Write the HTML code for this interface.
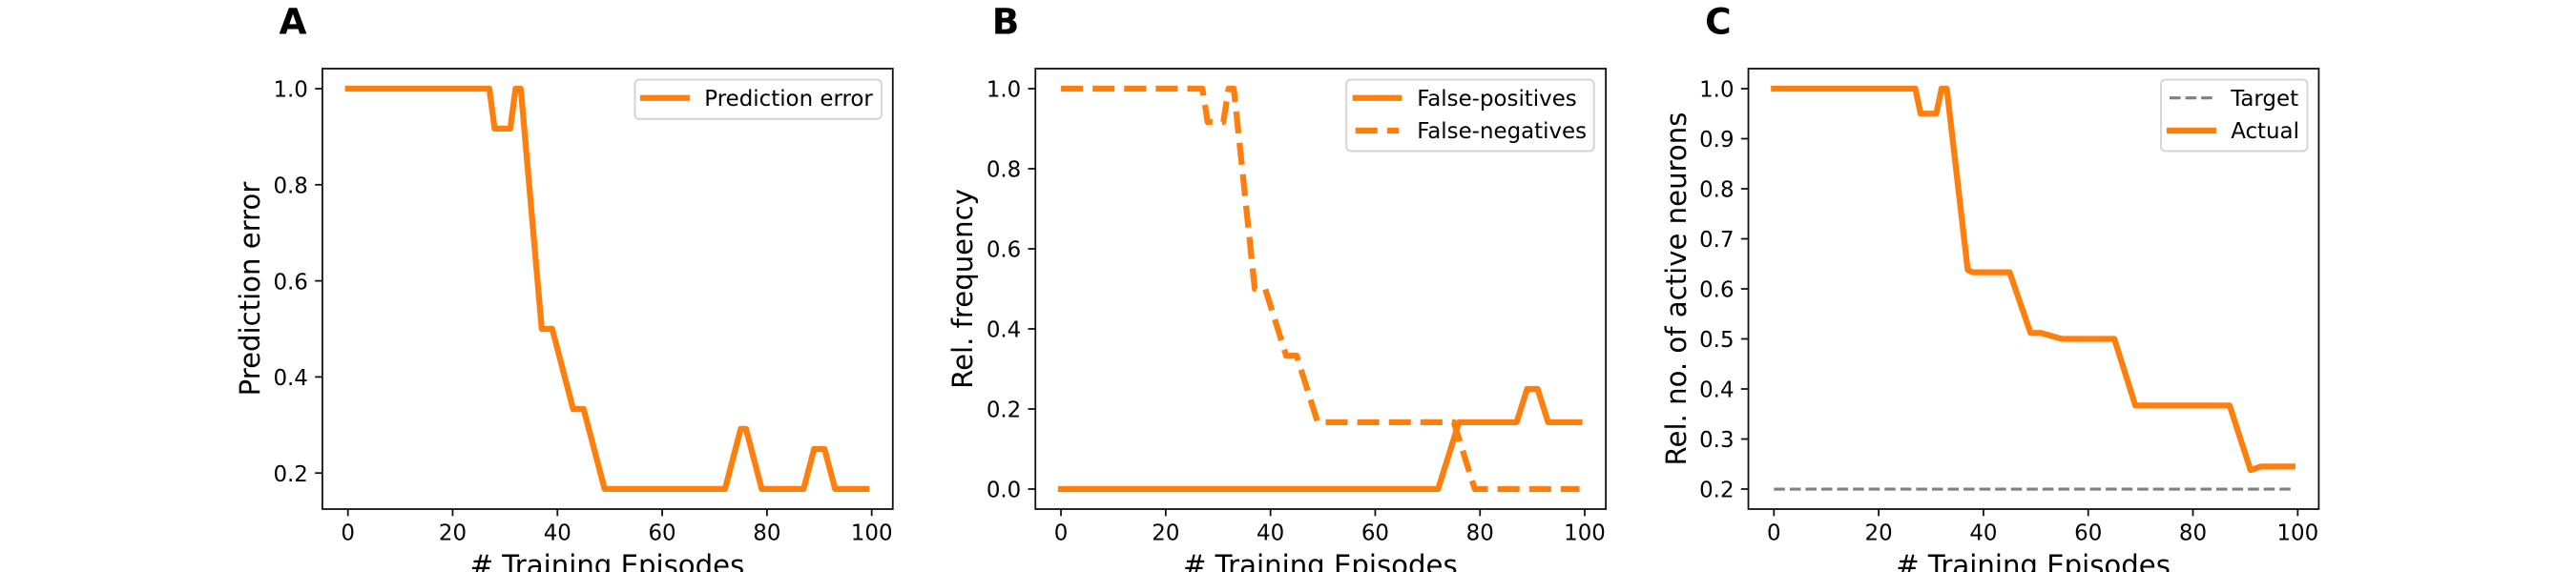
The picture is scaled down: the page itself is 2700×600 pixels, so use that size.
<!DOCTYPE html>
<html lang="en">
<head>
<meta charset="utf-8">
<title>Training metrics</title>
<style>
  html, body { margin: 0; padding: 0; background: #fff; width: 2700px; height: 600px; overflow: hidden; }
  svg { display: block; font-family: "DejaVu Sans", "Liberation Sans", sans-serif; fill: #000; }
  .tick-label { font-size: 22.92px; }
  .axis-title { font-size: 29.17px; }
  .panel-letter { font-size: 37.5px; font-weight: bold; }
  .legend-text { font-size: 22.92px; }
  .legend-box { fill: #fff; fill-opacity: .8; stroke: #d6d6d6; stroke-width: 2.08; }
  .frame { fill: none; stroke: #111; stroke-width: 1.8; }
  .tick { stroke: #111; stroke-width: 1.8; }
  .orange-solid { fill: none; stroke: #ff7f0e; stroke-width: 6.25; stroke-linejoin: round; stroke-linecap: square; }
  .orange-dashed { fill: none; stroke: #ff7f0e; stroke-width: 6.25; stroke-linejoin: round; stroke-linecap: butt; stroke-dasharray: 23.1 10; }
  .grey-dashed { fill: none; stroke: #808080; stroke-width: 3.125; stroke-linecap: butt; stroke-dasharray: 11.56 5; }
</style>
</head>
<body>
<svg id="figure" xmlns="http://www.w3.org/2000/svg" width="2700" height="600" viewBox="0 0 2700 600">
  <rect x="0" y="0" width="2700" height="600" fill="#fff"></rect>

  <text class="panel-letter" x="292.5" y="35.5">A</text>
  <text class="panel-letter" x="1039.8" y="35.5">B</text>
  <text class="panel-letter" x="1787.1" y="35.5">C</text>

  <g id="panel-a"></g>
  <g id="panel-b"></g>
  <g id="panel-c"></g>

  <g>
    <rect class="legend-box" x="665.4" y="83.5" width="258.5" height="41.3" rx="4.6"></rect>
    <g>
      <line class="orange-solid" x1="674" y1="102.7" x2="719.8" y2="102.7"></line>
      <text class="legend-text" x="738.3" y="110.8">Prediction error</text>
    </g>
  </g>

  <g>
    <rect class="legend-box" x="1411.2" y="83.5" width="259.5" height="75" rx="4.6"></rect>
    <g>
      <line class="orange-solid" x1="1420.8" y1="102.7" x2="1466.3" y2="102.7"></line>
      <text class="legend-text" x="1485.2" y="110.8">False-positives</text>
    </g>
    <g>
      <line class="orange-dashed" x1="1420.7" y1="137" x2="1466.3" y2="137"></line>
      <text class="legend-text" x="1485.2" y="145.2">False-negatives</text>
    </g>
  </g>

  <g>
    <rect class="legend-box" x="2265" y="83.5" width="153.5" height="75" rx="4.6"></rect>
    <g>
      <line class="grey-dashed" x1="2274" y1="102.7" x2="2319.8" y2="102.7"></line>
      <text class="legend-text" x="2338.2" y="110.8">Target</text>
    </g>
    <g>
      <line class="orange-solid" x1="2274" y1="137" x2="2319.8" y2="137"></line>
      <text class="legend-text" x="2338.2" y="145.2">Actual</text>
    </g>
  </g>
</svg>

<script>
// Shared x axis
const xDomain = [-4.95, 103.95];
const xTicks = [0, 20, 40, 60, 80, 100];

// Panel A data
const episodesError = [0, 27, 28, 31, 32, 33, 37, 39, 43, 45, 49, 72, 75, 76, 79, 87, 89, 91, 93, 99];
const predictionError = [1, 1, 0.917, 0.917, 1, 1, 0.5, 0.5, 0.333, 0.333, 0.167, 0.167, 0.292, 0.292, 0.167, 0.167, 0.25, 0.25, 0.167, 0.167];
const yDomainA = [0.125, 1.0417];
const yTicksA = [0.2, 0.4, 0.6, 0.8, 1.0];

// Panel B data
const episodesPositives = [0, 72, 76, 87, 89, 91, 93, 99];
const falsePositives = [0, 0, 0.167, 0.167, 0.25, 0.25, 0.167, 0.167];
const episodesNegatives = [0, 27, 28, 31, 32, 33, 37, 39, 43, 45, 49, 75, 79, 99];
const falseNegatives = [1, 1, 0.917, 0.917, 1, 1, 0.5, 0.5, 0.333, 0.333, 0.167, 0.167, 0, 0];
const yDomainB = [-0.05, 1.05];
const yTicksB = [0.0, 0.2, 0.4, 0.6, 0.8, 1.0];

// Panel C data
const episodesTarget = [0, 99];
const targetActivity = [0.2, 0.2];
const episodesActual = [0, 27, 28, 31, 32, 33, 37, 38, 45, 49, 51, 55, 65, 69, 87, 91, 93, 99];
const actualActivity = [1, 1, 0.95, 0.95, 1, 1, 0.638, 0.633, 0.633, 0.512, 0.512, 0.5, 0.5, 0.367, 0.367, 0.238, 0.245, 0.245];
const yDomainC = [0.16, 1.04];
const yTicksC = [0.2, 0.3, 0.4, 0.5, 0.6, 0.7, 0.8, 0.9, 1.0];

const SVG_NS = 'http://www.w3.org/2000/svg';
const AXES_TOP = 72;
const AXES_BOTTOM = 534;
const AXES_WIDTH = 597.86;

function make(tag, parent) {
  const el = document.createElementNS(SVG_NS, tag);
  parent.appendChild(el);
  return el;
}

function drawSeries(group, xs, ys, xScale, yScale, cls, name) {
  const line = make('polyline', group);
  
  
  line.setAttribute('class', cls);
  line.setAttribute('points', xs.map(function (x, i) {
    return xScale(x).toFixed(2) + ',' + yScale(ys[i]).toFixed(2);
  }).join(' '));
}

function drawAxes(group, left, yDomain, yTicks, yTitle, yTitleX) {
  const right = left + AXES_WIDTH;
  const xScale = function (v) { return left + (v - xDomain[0]) / (xDomain[1] - xDomain[0]) * AXES_WIDTH; };
  const yScale = function (v) { return AXES_BOTTOM - (v - yDomain[0]) / (yDomain[1] - yDomain[0]) * (AXES_BOTTOM - AXES_TOP); };

  xTicks.forEach(function (t) {
    const tick = make('line', group);
    
    
    tick.setAttribute('class', 'tick');
    tick.setAttribute('x1', xScale(t));
    tick.setAttribute('x2', xScale(t));
    tick.setAttribute('y1', AXES_BOTTOM);
    tick.setAttribute('y2', AXES_BOTTOM + 7.3);
    const label = make('text', group);
    
    
    label.setAttribute('class', 'tick-label');
    label.setAttribute('text-anchor', 'middle');
    label.setAttribute('x', xScale(t));
    label.setAttribute('y', AXES_BOTTOM + 32.6);
    label.textContent = String(t);
  });

  yTicks.forEach(function (t) {
    const tick = make('line', group);
    
    
    tick.setAttribute('class', 'tick');
    tick.setAttribute('x1', left - 7.3);
    tick.setAttribute('x2', left);
    tick.setAttribute('y1', yScale(t));
    tick.setAttribute('y2', yScale(t));
    const label = make('text', group);
    
    
    label.setAttribute('class', 'tick-label');
    label.setAttribute('text-anchor', 'end');
    label.setAttribute('x', left - 14.6);
    label.setAttribute('y', yScale(t) + 8.7);
    label.textContent = t.toFixed(1);
  });

  const xTitle = make('text', group);
  
  
  xTitle.setAttribute('class', 'axis-title');
  xTitle.setAttribute('text-anchor', 'middle');
  xTitle.setAttribute('x', left + AXES_WIDTH / 2);
  xTitle.setAttribute('y', 603);
  xTitle.textContent = '# Training Episodes';

  const yLabel = make('text', group);
  
  
  yLabel.setAttribute('class', 'axis-title');
  yLabel.setAttribute('text-anchor', 'middle');
  yLabel.setAttribute('transform', 'translate(' + yTitleX + ',' + (AXES_TOP + AXES_BOTTOM) / 2 + ') rotate(-90)');
  yLabel.textContent = yTitle;

  return { xScale: xScale, yScale: yScale, frame: function () {
    const frame = make('rect', group);
    
    
    frame.setAttribute('class', 'frame');
    frame.setAttribute('x', left + 0.4);
    frame.setAttribute('y', AXES_TOP);
    frame.setAttribute('width', right - left);
    frame.setAttribute('height', AXES_BOTTOM - AXES_TOP);
  } };
}

const panelA = document.getElementById('panel-a');
const axesA = drawAxes(panelA, 337.5, yDomainA, yTicksA, 'Prediction error', 271.9);
drawSeries(panelA, episodesError, predictionError, axesA.xScale, axesA.yScale, 'orange-solid', 'prediction-error-line');
axesA.frame();

const panelB = document.getElementById('panel-b');
const axesB = drawAxes(panelB, 1084.86, yDomainB, yTicksB, 'Rel. frequency', 1018.9);
drawSeries(panelB, episodesPositives, falsePositives, axesB.xScale, axesB.yScale, 'orange-solid', 'false-positives-line');
drawSeries(panelB, episodesNegatives, falseNegatives, axesB.xScale, axesB.yScale, 'orange-dashed', 'false-negatives-line');
axesB.frame();

const panelC = document.getElementById('panel-c');
const axesC = drawAxes(panelC, 1832.14, yDomainC, yTicksC, 'Rel. no. of active neurons', 1766.8);
drawSeries(panelC, episodesTarget, targetActivity, axesC.xScale, axesC.yScale, 'grey-dashed', 'target-line');
drawSeries(panelC, episodesActual, actualActivity, axesC.xScale, axesC.yScale, 'orange-solid', 'actual-line');
axesC.frame();
</script>
</body>
</html>
